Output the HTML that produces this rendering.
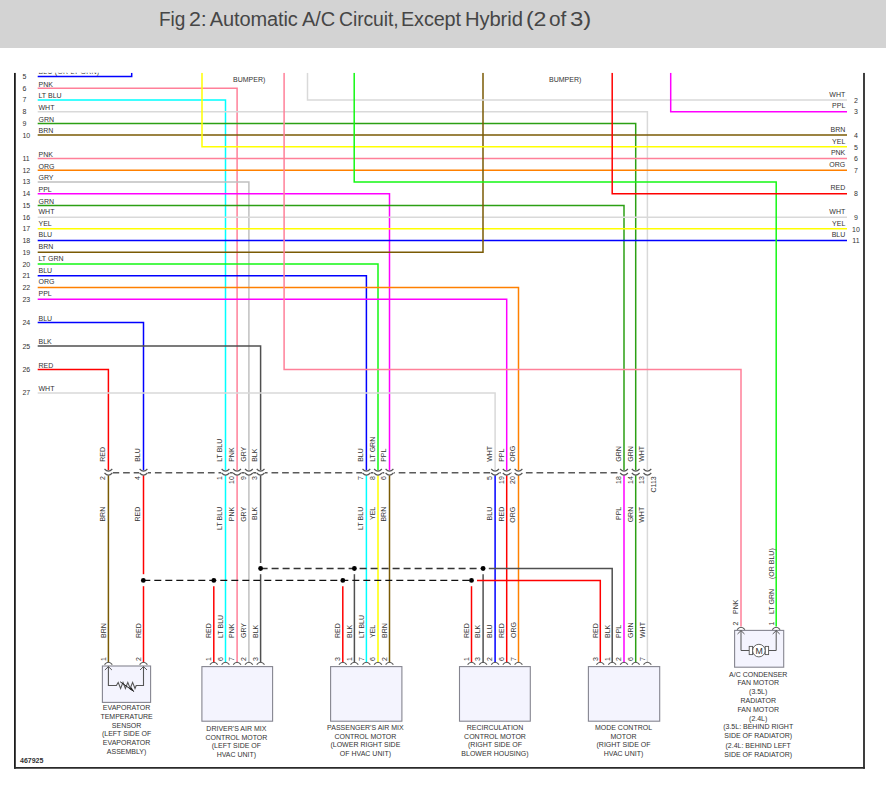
<!DOCTYPE html>
<html><head><meta charset="utf-8"><style>
html,body{margin:0;padding:0;background:#fff;width:886px;height:786px;overflow:hidden}
#hdr{position:absolute;left:0;top:0;width:886px;height:48px;background:#d3d3d3}
.tw{position:absolute;top:7px;font-family:"Liberation Sans",sans-serif;font-size:20px;letter-spacing:-0.1px;color:#464646;white-space:nowrap;line-height:24px;transform-origin:0 0}
svg{position:absolute;left:0;top:0}
svg text{font-family:"Liberation Sans",sans-serif}
</style></head><body>
<div id="hdr"></div><span class="tw" style="left:159.06px;transform:scaleX(0.95)">Fig</span><span class="tw" style="left:189.32px;transform:scaleX(1.07)">2:</span><span class="tw" style="left:209.70px;transform:scaleX(1.0)">Automatic</span><span class="tw" style="left:302.00px;transform:scaleX(1.0)">A/C</span><span class="tw" style="left:339.34px;transform:scaleX(0.97)">Circuit,</span><span class="tw" style="left:400.81px;transform:scaleX(0.99)">Except</span><span class="tw" style="left:464.79px;transform:scaleX(1.01)">Hybrid</span><span class="tw" style="left:526.01px;transform:scaleX(1.16)">(2</span><span class="tw" style="left:548.95px;transform:scaleX(1.04)">of</span><span class="tw" style="left:570.36px;transform:scaleX(1.2)">3)</span>
<svg width="886" height="786" viewBox="0 0 886 786">
<defs><clipPath id="cp"><rect x="0" y="72.8" width="886" height="714"/></clipPath></defs>
<g clip-path="url(#cp)">
<path d="M37.70,76.50 L131.70,76.50 L131.70,72.80" stroke="#0000ff" stroke-width="1.5" fill="none" />
<path d="M37.70,88.22 L237.10,88.22 L237.10,471.00" stroke="#ff8099" stroke-width="1.5" fill="none" />
<path d="M37.70,99.94 L225.50,99.94 L225.50,471.00" stroke="#00ffff" stroke-width="1.5" fill="none" />
<path d="M37.70,111.66 L647.40,111.66 L647.40,471.00" stroke="#d9d9d9" stroke-width="1.5" fill="none" />
<path d="M37.70,123.38 L635.70,123.38 L635.70,471.00" stroke="#2ca014" stroke-width="1.5" fill="none" />
<path d="M37.70,135.10 L847.00,135.10" stroke="#7a5a04" stroke-width="1.5" fill="none" />
<path d="M37.70,158.54 L847.00,158.54" stroke="#ff8099" stroke-width="1.5" fill="none" />
<path d="M37.70,170.26 L847.00,170.26" stroke="#ff8000" stroke-width="1.5" fill="none" />
<path d="M37.70,181.98 L248.90,181.98 L248.90,471.00" stroke="#c0c0c0" stroke-width="1.5" fill="none" />
<path d="M37.70,193.70 L389.50,193.70 L389.50,471.00" stroke="#ff00ff" stroke-width="1.5" fill="none" />
<path d="M37.70,205.42 L624.00,205.42 L624.00,471.00" stroke="#2ca014" stroke-width="1.5" fill="none" />
<path d="M37.70,217.14 L847.00,217.14" stroke="#d9d9d9" stroke-width="1.5" fill="none" />
<path d="M37.70,228.86 L847.00,228.86" stroke="#ffff00" stroke-width="1.5" fill="none" />
<path d="M37.70,240.58 L847.00,240.58" stroke="#0000ff" stroke-width="1.5" fill="none" />
<path d="M37.70,252.30 L483.00,252.30 L483.00,72.80" stroke="#7a5a04" stroke-width="1.5" fill="none" />
<path d="M37.70,264.02 L378.00,264.02 L378.00,471.00" stroke="#14f814" stroke-width="1.5" fill="none" />
<path d="M37.70,275.74 L366.40,275.74 L366.40,471.00" stroke="#0000ff" stroke-width="1.5" fill="none" />
<path d="M37.70,287.46 L518.50,287.46 L518.50,471.00" stroke="#ff8000" stroke-width="1.5" fill="none" />
<path d="M37.70,299.18 L506.70,299.18 L506.70,471.00" stroke="#ff00ff" stroke-width="1.5" fill="none" />
<path d="M37.70,322.62 L143.50,322.62 L143.50,471.00" stroke="#0000ff" stroke-width="1.5" fill="none" />
<path d="M37.70,346.06 L260.60,346.06 L260.60,471.00" stroke="#505050" stroke-width="1.5" fill="none" />
<path d="M37.70,369.50 L108.40,369.50 L108.40,471.00" stroke="#ff0000" stroke-width="1.5" fill="none" />
<path d="M37.70,392.94 L495.10,392.94 L495.10,471.00" stroke="#d9d9d9" stroke-width="1.5" fill="none" />
<path d="M202.00,72.80 L202.00,146.82 L847.00,146.82" stroke="#ffff00" stroke-width="1.5" fill="none" />
<path d="M284.10,72.80 L284.10,369.60 L741.00,369.60 L741.00,626.50" stroke="#ff8099" stroke-width="1.5" fill="none" />
<path d="M307.50,72.80 L307.50,99.94 L847.00,99.94" stroke="#d9d9d9" stroke-width="1.5" fill="none" />
<path d="M354.20,72.80 L354.20,181.98 L776.20,181.98 L776.20,626.50" stroke="#14f814" stroke-width="1.5" fill="none" />
<path d="M612.20,72.80 L612.20,193.70 L847.00,193.70" stroke="#ff0000" stroke-width="1.5" fill="none" />
<path d="M670.70,72.80 L670.70,111.66 L847.00,111.66" stroke="#ff00ff" stroke-width="1.5" fill="none" />
<path d="M108.40,475.00 L108.40,662.40" stroke="#7a5a04" stroke-width="1.5" fill="none" />
<path d="M143.50,475.00 L143.50,574.20" stroke="#ff0000" stroke-width="1.5" fill="none" />
<path d="M143.50,586.20 L143.50,662.40" stroke="#ff0000" stroke-width="1.5" fill="none" />
<path d="M225.50,475.00 L225.50,662.40" stroke="#00ffff" stroke-width="1.5" fill="none" />
<path d="M237.10,475.00 L237.10,662.40" stroke="#ff8099" stroke-width="1.5" fill="none" />
<path d="M248.90,475.00 L248.90,662.40" stroke="#c0c0c0" stroke-width="1.5" fill="none" />
<path d="M260.60,475.00 L260.60,563.00" stroke="#505050" stroke-width="1.5" fill="none" />
<path d="M260.60,574.20 L260.60,662.40" stroke="#505050" stroke-width="1.5" fill="none" />
<path d="M366.40,475.00 L366.40,662.40" stroke="#00ffff" stroke-width="1.5" fill="none" />
<path d="M378.00,475.00 L378.00,662.40" stroke="#ffff00" stroke-width="1.5" fill="none" />
<path d="M389.50,475.00 L389.50,662.40" stroke="#7a5a04" stroke-width="1.5" fill="none" />
<path d="M495.10,475.00 L495.10,662.40" stroke="#0000ff" stroke-width="1.5" fill="none" />
<path d="M506.70,475.00 L506.70,662.40" stroke="#ff0000" stroke-width="1.5" fill="none" />
<path d="M518.50,475.00 L518.50,662.40" stroke="#ff8000" stroke-width="1.5" fill="none" />
<path d="M624.00,475.00 L624.00,662.40" stroke="#ff00ff" stroke-width="1.5" fill="none" />
<path d="M635.70,475.00 L635.70,662.40" stroke="#2ca014" stroke-width="1.5" fill="none" />
<path d="M647.40,475.00 L647.40,662.40" stroke="#d9d9d9" stroke-width="1.5" fill="none" />
<path d="M213.80,586.20 L213.80,662.40" stroke="#ff0000" stroke-width="1.5" fill="none" />
<path d="M342.80,586.20 L342.80,662.40" stroke="#ff0000" stroke-width="1.5" fill="none" />
<path d="M471.50,586.20 L471.50,662.40" stroke="#ff0000" stroke-width="1.5" fill="none" />
<path d="M354.40,574.20 L354.40,662.40" stroke="#505050" stroke-width="1.5" fill="none" />
<path d="M483.10,574.20 L483.10,662.40" stroke="#505050" stroke-width="1.5" fill="none" />
<path d="M477.00,580.40 L600.30,580.40 L600.30,662.40" stroke="#ff0000" stroke-width="1.5" fill="none" />
<path d="M488.80,568.50 L612.20,568.50 L612.20,662.40" stroke="#505050" stroke-width="1.5" fill="none" />
<path d="M143.3,580.4 H471.5" stroke="#111" stroke-width="1.4" stroke-dasharray="7,4" fill="none"/>
<path d="M260.6,568.5 H483.1" stroke="#333" stroke-width="1.4" stroke-dasharray="7,4" fill="none"/>
<circle cx="143.3" cy="580.4" r="2.4" fill="#000"/>
<circle cx="213.8" cy="580.4" r="2.4" fill="#000"/>
<circle cx="342.8" cy="580.4" r="2.4" fill="#000"/>
<circle cx="471.5" cy="580.4" r="2.4" fill="#000"/>
<circle cx="260.6" cy="568.5" r="2.4" fill="#000"/>
<circle cx="354.4" cy="568.5" r="2.4" fill="#000"/>
<circle cx="483.1" cy="568.5" r="2.4" fill="#000"/>
<path d="M112.5,472.8 H620" stroke="#5a5a5a" stroke-width="1.5" stroke-dasharray="6.7,3.9" fill="none"/>
<rect x="104.10" y="470.3" width="8.6" height="5" fill="#fff"/>
<path d="M104.50,469.0 Q106.50,471.1 108.40,471.1 Q110.30,471.1 112.30,469.0 M104.50,473.0 Q106.50,475.1 108.40,475.1 Q110.30,475.1 112.30,473.0" stroke="#555" stroke-width="1.15" fill="none"/>
<text x="105.30" y="461.80" font-size="7" text-anchor="start" fill="#333" transform="rotate(-90 105.30 461.80)" >RED</text>
<text x="105.30" y="476.10" font-size="7" text-anchor="end" fill="#333" transform="rotate(-90 105.30 476.10)" >2</text>
<text x="105.30" y="506.80" font-size="7" text-anchor="end" fill="#333" transform="rotate(-90 105.30 506.80)" >BRN</text>
<rect x="139.20" y="470.3" width="8.6" height="5" fill="#fff"/>
<path d="M139.60,469.0 Q141.60,471.1 143.50,471.1 Q145.40,471.1 147.40,469.0 M139.60,473.0 Q141.60,475.1 143.50,475.1 Q145.40,475.1 147.40,473.0" stroke="#555" stroke-width="1.15" fill="none"/>
<text x="140.40" y="461.80" font-size="7" text-anchor="start" fill="#333" transform="rotate(-90 140.40 461.80)" >BLU</text>
<text x="140.40" y="476.10" font-size="7" text-anchor="end" fill="#333" transform="rotate(-90 140.40 476.10)" >4</text>
<text x="140.40" y="506.80" font-size="7" text-anchor="end" fill="#333" transform="rotate(-90 140.40 506.80)" >RED</text>
<rect x="221.20" y="470.3" width="8.6" height="5" fill="#fff"/>
<path d="M221.60,469.0 Q223.60,471.1 225.50,471.1 Q227.40,471.1 229.40,469.0 M221.60,473.0 Q223.60,475.1 225.50,475.1 Q227.40,475.1 229.40,473.0" stroke="#555" stroke-width="1.15" fill="none"/>
<text x="222.40" y="461.80" font-size="7" text-anchor="start" fill="#333" transform="rotate(-90 222.40 461.80)" >LT BLU</text>
<text x="222.40" y="476.10" font-size="7" text-anchor="end" fill="#333" transform="rotate(-90 222.40 476.10)" >1</text>
<text x="222.40" y="506.80" font-size="7" text-anchor="end" fill="#333" transform="rotate(-90 222.40 506.80)" >LT BLU</text>
<rect x="232.80" y="470.3" width="8.6" height="5" fill="#fff"/>
<path d="M233.20,469.0 Q235.20,471.1 237.10,471.1 Q239.00,471.1 241.00,469.0 M233.20,473.0 Q235.20,475.1 237.10,475.1 Q239.00,475.1 241.00,473.0" stroke="#555" stroke-width="1.15" fill="none"/>
<text x="234.00" y="461.80" font-size="7" text-anchor="start" fill="#333" transform="rotate(-90 234.00 461.80)" >PNK</text>
<text x="234.00" y="476.10" font-size="7" text-anchor="end" fill="#333" transform="rotate(-90 234.00 476.10)" >10</text>
<text x="234.00" y="506.80" font-size="7" text-anchor="end" fill="#333" transform="rotate(-90 234.00 506.80)" >PNK</text>
<rect x="244.60" y="470.3" width="8.6" height="5" fill="#fff"/>
<path d="M245.00,469.0 Q247.00,471.1 248.90,471.1 Q250.80,471.1 252.80,469.0 M245.00,473.0 Q247.00,475.1 248.90,475.1 Q250.80,475.1 252.80,473.0" stroke="#555" stroke-width="1.15" fill="none"/>
<text x="245.80" y="461.80" font-size="7" text-anchor="start" fill="#333" transform="rotate(-90 245.80 461.80)" >GRY</text>
<text x="245.80" y="476.10" font-size="7" text-anchor="end" fill="#333" transform="rotate(-90 245.80 476.10)" >9</text>
<text x="245.80" y="506.80" font-size="7" text-anchor="end" fill="#333" transform="rotate(-90 245.80 506.80)" >GRY</text>
<rect x="256.30" y="470.3" width="8.6" height="5" fill="#fff"/>
<path d="M256.70,469.0 Q258.70,471.1 260.60,471.1 Q262.50,471.1 264.50,469.0 M256.70,473.0 Q258.70,475.1 260.60,475.1 Q262.50,475.1 264.50,473.0" stroke="#555" stroke-width="1.15" fill="none"/>
<text x="257.50" y="461.80" font-size="7" text-anchor="start" fill="#333" transform="rotate(-90 257.50 461.80)" >BLK</text>
<text x="257.50" y="476.10" font-size="7" text-anchor="end" fill="#333" transform="rotate(-90 257.50 476.10)" >3</text>
<text x="257.50" y="506.80" font-size="7" text-anchor="end" fill="#333" transform="rotate(-90 257.50 506.80)" >BLK</text>
<rect x="362.10" y="470.3" width="8.6" height="5" fill="#fff"/>
<path d="M362.50,469.0 Q364.50,471.1 366.40,471.1 Q368.30,471.1 370.30,469.0 M362.50,473.0 Q364.50,475.1 366.40,475.1 Q368.30,475.1 370.30,473.0" stroke="#555" stroke-width="1.15" fill="none"/>
<text x="363.30" y="461.80" font-size="7" text-anchor="start" fill="#333" transform="rotate(-90 363.30 461.80)" >BLU</text>
<text x="363.30" y="476.10" font-size="7" text-anchor="end" fill="#333" transform="rotate(-90 363.30 476.10)" >7</text>
<text x="363.30" y="506.80" font-size="7" text-anchor="end" fill="#333" transform="rotate(-90 363.30 506.80)" >LT BLU</text>
<rect x="373.70" y="470.3" width="8.6" height="5" fill="#fff"/>
<path d="M374.10,469.0 Q376.10,471.1 378.00,471.1 Q379.90,471.1 381.90,469.0 M374.10,473.0 Q376.10,475.1 378.00,475.1 Q379.90,475.1 381.90,473.0" stroke="#555" stroke-width="1.15" fill="none"/>
<text x="374.90" y="461.80" font-size="7" text-anchor="start" fill="#333" transform="rotate(-90 374.90 461.80)" >LT GRN</text>
<text x="374.90" y="476.10" font-size="7" text-anchor="end" fill="#333" transform="rotate(-90 374.90 476.10)" >8</text>
<text x="374.90" y="506.80" font-size="7" text-anchor="end" fill="#333" transform="rotate(-90 374.90 506.80)" >YEL</text>
<rect x="385.20" y="470.3" width="8.6" height="5" fill="#fff"/>
<path d="M385.60,469.0 Q387.60,471.1 389.50,471.1 Q391.40,471.1 393.40,469.0 M385.60,473.0 Q387.60,475.1 389.50,475.1 Q391.40,475.1 393.40,473.0" stroke="#555" stroke-width="1.15" fill="none"/>
<text x="386.40" y="461.80" font-size="7" text-anchor="start" fill="#333" transform="rotate(-90 386.40 461.80)" >PPL</text>
<text x="386.40" y="476.10" font-size="7" text-anchor="end" fill="#333" transform="rotate(-90 386.40 476.10)" >6</text>
<text x="386.40" y="506.80" font-size="7" text-anchor="end" fill="#333" transform="rotate(-90 386.40 506.80)" >BRN</text>
<rect x="490.80" y="470.3" width="8.6" height="5" fill="#fff"/>
<path d="M491.20,469.0 Q493.20,471.1 495.10,471.1 Q497.00,471.1 499.00,469.0 M491.20,473.0 Q493.20,475.1 495.10,475.1 Q497.00,475.1 499.00,473.0" stroke="#555" stroke-width="1.15" fill="none"/>
<text x="492.00" y="461.80" font-size="7" text-anchor="start" fill="#333" transform="rotate(-90 492.00 461.80)" >WHT</text>
<text x="492.00" y="476.10" font-size="7" text-anchor="end" fill="#333" transform="rotate(-90 492.00 476.10)" >5</text>
<text x="492.00" y="506.80" font-size="7" text-anchor="end" fill="#333" transform="rotate(-90 492.00 506.80)" >BLU</text>
<rect x="502.40" y="470.3" width="8.6" height="5" fill="#fff"/>
<path d="M502.80,469.0 Q504.80,471.1 506.70,471.1 Q508.60,471.1 510.60,469.0 M502.80,473.0 Q504.80,475.1 506.70,475.1 Q508.60,475.1 510.60,473.0" stroke="#555" stroke-width="1.15" fill="none"/>
<text x="503.60" y="461.80" font-size="7" text-anchor="start" fill="#333" transform="rotate(-90 503.60 461.80)" >PPL</text>
<text x="503.60" y="476.10" font-size="7" text-anchor="end" fill="#333" transform="rotate(-90 503.60 476.10)" >19</text>
<text x="503.60" y="506.80" font-size="7" text-anchor="end" fill="#333" transform="rotate(-90 503.60 506.80)" >RED</text>
<rect x="514.20" y="470.3" width="8.6" height="5" fill="#fff"/>
<path d="M514.60,469.0 Q516.60,471.1 518.50,471.1 Q520.40,471.1 522.40,469.0 M514.60,473.0 Q516.60,475.1 518.50,475.1 Q520.40,475.1 522.40,473.0" stroke="#555" stroke-width="1.15" fill="none"/>
<text x="515.40" y="461.80" font-size="7" text-anchor="start" fill="#333" transform="rotate(-90 515.40 461.80)" >ORG</text>
<text x="515.40" y="476.10" font-size="7" text-anchor="end" fill="#333" transform="rotate(-90 515.40 476.10)" >20</text>
<text x="515.40" y="506.80" font-size="7" text-anchor="end" fill="#333" transform="rotate(-90 515.40 506.80)" >ORG</text>
<rect x="619.70" y="470.3" width="8.6" height="5" fill="#fff"/>
<path d="M620.10,469.0 Q622.10,471.1 624.00,471.1 Q625.90,471.1 627.90,469.0 M620.10,473.0 Q622.10,475.1 624.00,475.1 Q625.90,475.1 627.90,473.0" stroke="#555" stroke-width="1.15" fill="none"/>
<text x="620.90" y="461.80" font-size="7" text-anchor="start" fill="#333" transform="rotate(-90 620.90 461.80)" >GRN</text>
<text x="620.90" y="476.10" font-size="7" text-anchor="end" fill="#333" transform="rotate(-90 620.90 476.10)" >18</text>
<text x="620.90" y="506.80" font-size="7" text-anchor="end" fill="#333" transform="rotate(-90 620.90 506.80)" >PPL</text>
<rect x="631.40" y="470.3" width="8.6" height="5" fill="#fff"/>
<path d="M631.80,469.0 Q633.80,471.1 635.70,471.1 Q637.60,471.1 639.60,469.0 M631.80,473.0 Q633.80,475.1 635.70,475.1 Q637.60,475.1 639.60,473.0" stroke="#555" stroke-width="1.15" fill="none"/>
<text x="632.60" y="461.80" font-size="7" text-anchor="start" fill="#333" transform="rotate(-90 632.60 461.80)" >GRN</text>
<text x="632.60" y="476.10" font-size="7" text-anchor="end" fill="#333" transform="rotate(-90 632.60 476.10)" >14</text>
<text x="632.60" y="506.80" font-size="7" text-anchor="end" fill="#333" transform="rotate(-90 632.60 506.80)" >GRN</text>
<rect x="643.10" y="470.3" width="8.6" height="5" fill="#fff"/>
<path d="M643.50,469.0 Q645.50,471.1 647.40,471.1 Q649.30,471.1 651.30,469.0 M643.50,473.0 Q645.50,475.1 647.40,475.1 Q649.30,475.1 651.30,473.0" stroke="#555" stroke-width="1.15" fill="none"/>
<text x="644.30" y="461.80" font-size="7" text-anchor="start" fill="#333" transform="rotate(-90 644.30 461.80)" >WHT</text>
<text x="644.30" y="476.10" font-size="7" text-anchor="end" fill="#333" transform="rotate(-90 644.30 476.10)" >13</text>
<text x="644.30" y="506.80" font-size="7" text-anchor="end" fill="#333" transform="rotate(-90 644.30 506.80)" >WHT</text>
<text x="656.30" y="476.30" font-size="7" text-anchor="end" fill="#333" transform="rotate(-90 656.30 476.30)" >C113</text>
<rect x="102.4" y="666.0" width="48.19999999999999" height="36.39999999999998" fill="#f4f4fe" stroke="#858590" stroke-width="1.1"/>
<rect x="201.9" y="666.6" width="70.70000000000002" height="54.60000000000002" fill="#f4f4fe" stroke="#858590" stroke-width="1.1"/>
<rect x="330.6" y="666.6" width="71.29999999999995" height="54.60000000000002" fill="#f4f4fe" stroke="#858590" stroke-width="1.1"/>
<rect x="459.5" y="666.6" width="70.79999999999995" height="54.60000000000002" fill="#f4f4fe" stroke="#858590" stroke-width="1.1"/>
<rect x="588.4" y="666.6" width="71.30000000000007" height="54.60000000000002" fill="#f4f4fe" stroke="#858590" stroke-width="1.1"/>
<path d="M104.50,664.60 Q106.30,662.30 108.40,662.30 Q110.50,662.30 112.30,664.60" stroke="#555" stroke-width="1.1" fill="none"/>
<text x="105.70" y="638.00" font-size="7" text-anchor="start" fill="#333" transform="rotate(-90 105.70 638.00)" >BRN</text>
<text x="105.70" y="661.00" font-size="7" text-anchor="start" fill="#333" transform="rotate(-90 105.70 661.00)" >1</text>
<path d="M139.60,664.60 Q141.40,662.30 143.50,662.30 Q145.60,662.30 147.40,664.60" stroke="#555" stroke-width="1.1" fill="none"/>
<text x="140.80" y="638.00" font-size="7" text-anchor="start" fill="#333" transform="rotate(-90 140.80 638.00)" >RED</text>
<text x="140.80" y="661.00" font-size="7" text-anchor="start" fill="#333" transform="rotate(-90 140.80 661.00)" >2</text>
<path d="M209.90,664.60 Q211.70,662.30 213.80,662.30 Q215.90,662.30 217.70,664.60" stroke="#555" stroke-width="1.1" fill="none"/>
<text x="211.10" y="638.00" font-size="7" text-anchor="start" fill="#333" transform="rotate(-90 211.10 638.00)" >RED</text>
<text x="211.10" y="661.00" font-size="7" text-anchor="start" fill="#333" transform="rotate(-90 211.10 661.00)" >1</text>
<path d="M221.60,664.60 Q223.40,662.30 225.50,662.30 Q227.60,662.30 229.40,664.60" stroke="#555" stroke-width="1.1" fill="none"/>
<text x="222.80" y="638.00" font-size="7" text-anchor="start" fill="#333" transform="rotate(-90 222.80 638.00)" >LT BLU</text>
<text x="222.80" y="661.00" font-size="7" text-anchor="start" fill="#333" transform="rotate(-90 222.80 661.00)" >6</text>
<path d="M233.20,664.60 Q235.00,662.30 237.10,662.30 Q239.20,662.30 241.00,664.60" stroke="#555" stroke-width="1.1" fill="none"/>
<text x="234.40" y="638.00" font-size="7" text-anchor="start" fill="#333" transform="rotate(-90 234.40 638.00)" >PNK</text>
<text x="234.40" y="661.00" font-size="7" text-anchor="start" fill="#333" transform="rotate(-90 234.40 661.00)" >7</text>
<path d="M245.00,664.60 Q246.80,662.30 248.90,662.30 Q251.00,662.30 252.80,664.60" stroke="#555" stroke-width="1.1" fill="none"/>
<text x="246.20" y="638.00" font-size="7" text-anchor="start" fill="#333" transform="rotate(-90 246.20 638.00)" >GRY</text>
<text x="246.20" y="661.00" font-size="7" text-anchor="start" fill="#333" transform="rotate(-90 246.20 661.00)" >2</text>
<path d="M256.70,664.60 Q258.50,662.30 260.60,662.30 Q262.70,662.30 264.50,664.60" stroke="#555" stroke-width="1.1" fill="none"/>
<text x="257.90" y="638.00" font-size="7" text-anchor="start" fill="#333" transform="rotate(-90 257.90 638.00)" >BLK</text>
<text x="257.90" y="661.00" font-size="7" text-anchor="start" fill="#333" transform="rotate(-90 257.90 661.00)" >3</text>
<path d="M338.90,664.60 Q340.70,662.30 342.80,662.30 Q344.90,662.30 346.70,664.60" stroke="#555" stroke-width="1.1" fill="none"/>
<text x="340.10" y="638.00" font-size="7" text-anchor="start" fill="#333" transform="rotate(-90 340.10 638.00)" >RED</text>
<text x="340.10" y="661.00" font-size="7" text-anchor="start" fill="#333" transform="rotate(-90 340.10 661.00)" >3</text>
<path d="M350.50,664.60 Q352.30,662.30 354.40,662.30 Q356.50,662.30 358.30,664.60" stroke="#555" stroke-width="1.1" fill="none"/>
<text x="351.70" y="638.00" font-size="7" text-anchor="start" fill="#333" transform="rotate(-90 351.70 638.00)" >BLK</text>
<text x="351.70" y="661.00" font-size="7" text-anchor="start" fill="#333" transform="rotate(-90 351.70 661.00)" >1</text>
<path d="M362.50,664.60 Q364.30,662.30 366.40,662.30 Q368.50,662.30 370.30,664.60" stroke="#555" stroke-width="1.1" fill="none"/>
<text x="363.70" y="638.00" font-size="7" text-anchor="start" fill="#333" transform="rotate(-90 363.70 638.00)" >LT BLU</text>
<text x="363.70" y="661.00" font-size="7" text-anchor="start" fill="#333" transform="rotate(-90 363.70 661.00)" >7</text>
<path d="M374.10,664.60 Q375.90,662.30 378.00,662.30 Q380.10,662.30 381.90,664.60" stroke="#555" stroke-width="1.1" fill="none"/>
<text x="375.30" y="638.00" font-size="7" text-anchor="start" fill="#333" transform="rotate(-90 375.30 638.00)" >YEL</text>
<text x="375.30" y="661.00" font-size="7" text-anchor="start" fill="#333" transform="rotate(-90 375.30 661.00)" >6</text>
<path d="M385.60,664.60 Q387.40,662.30 389.50,662.30 Q391.60,662.30 393.40,664.60" stroke="#555" stroke-width="1.1" fill="none"/>
<text x="386.80" y="638.00" font-size="7" text-anchor="start" fill="#333" transform="rotate(-90 386.80 638.00)" >BRN</text>
<text x="386.80" y="661.00" font-size="7" text-anchor="start" fill="#333" transform="rotate(-90 386.80 661.00)" >2</text>
<path d="M467.60,664.60 Q469.40,662.30 471.50,662.30 Q473.60,662.30 475.40,664.60" stroke="#555" stroke-width="1.1" fill="none"/>
<text x="468.80" y="638.00" font-size="7" text-anchor="start" fill="#333" transform="rotate(-90 468.80 638.00)" >RED</text>
<text x="468.80" y="661.00" font-size="7" text-anchor="start" fill="#333" transform="rotate(-90 468.80 661.00)" >1</text>
<path d="M479.20,664.60 Q481.00,662.30 483.10,662.30 Q485.20,662.30 487.00,664.60" stroke="#555" stroke-width="1.1" fill="none"/>
<text x="480.40" y="638.00" font-size="7" text-anchor="start" fill="#333" transform="rotate(-90 480.40 638.00)" >BLK</text>
<text x="480.40" y="661.00" font-size="7" text-anchor="start" fill="#333" transform="rotate(-90 480.40 661.00)" >3</text>
<path d="M491.20,664.60 Q493.00,662.30 495.10,662.30 Q497.20,662.30 499.00,664.60" stroke="#555" stroke-width="1.1" fill="none"/>
<text x="492.40" y="638.00" font-size="7" text-anchor="start" fill="#333" transform="rotate(-90 492.40 638.00)" >BLU</text>
<text x="492.40" y="661.00" font-size="7" text-anchor="start" fill="#333" transform="rotate(-90 492.40 661.00)" >2</text>
<path d="M502.80,664.60 Q504.60,662.30 506.70,662.30 Q508.80,662.30 510.60,664.60" stroke="#555" stroke-width="1.1" fill="none"/>
<text x="504.00" y="638.00" font-size="7" text-anchor="start" fill="#333" transform="rotate(-90 504.00 638.00)" >RED</text>
<text x="504.00" y="661.00" font-size="7" text-anchor="start" fill="#333" transform="rotate(-90 504.00 661.00)" >6</text>
<path d="M514.60,664.60 Q516.40,662.30 518.50,662.30 Q520.60,662.30 522.40,664.60" stroke="#555" stroke-width="1.1" fill="none"/>
<text x="515.80" y="638.00" font-size="7" text-anchor="start" fill="#333" transform="rotate(-90 515.80 638.00)" >ORG</text>
<text x="515.80" y="661.00" font-size="7" text-anchor="start" fill="#333" transform="rotate(-90 515.80 661.00)" >7</text>
<path d="M596.40,664.60 Q598.20,662.30 600.30,662.30 Q602.40,662.30 604.20,664.60" stroke="#555" stroke-width="1.1" fill="none"/>
<text x="597.60" y="638.00" font-size="7" text-anchor="start" fill="#333" transform="rotate(-90 597.60 638.00)" >RED</text>
<text x="597.60" y="661.00" font-size="7" text-anchor="start" fill="#333" transform="rotate(-90 597.60 661.00)" >3</text>
<path d="M608.30,664.60 Q610.10,662.30 612.20,662.30 Q614.30,662.30 616.10,664.60" stroke="#555" stroke-width="1.1" fill="none"/>
<text x="609.50" y="638.00" font-size="7" text-anchor="start" fill="#333" transform="rotate(-90 609.50 638.00)" >BLK</text>
<text x="609.50" y="661.00" font-size="7" text-anchor="start" fill="#333" transform="rotate(-90 609.50 661.00)" >1</text>
<path d="M620.10,664.60 Q621.90,662.30 624.00,662.30 Q626.10,662.30 627.90,664.60" stroke="#555" stroke-width="1.1" fill="none"/>
<text x="621.30" y="638.00" font-size="7" text-anchor="start" fill="#333" transform="rotate(-90 621.30 638.00)" >PPL</text>
<text x="621.30" y="661.00" font-size="7" text-anchor="start" fill="#333" transform="rotate(-90 621.30 661.00)" >2</text>
<path d="M631.80,664.60 Q633.60,662.30 635.70,662.30 Q637.80,662.30 639.60,664.60" stroke="#555" stroke-width="1.1" fill="none"/>
<text x="633.00" y="638.00" font-size="7" text-anchor="start" fill="#333" transform="rotate(-90 633.00 638.00)" >GRN</text>
<text x="633.00" y="661.00" font-size="7" text-anchor="start" fill="#333" transform="rotate(-90 633.00 661.00)" >6</text>
<path d="M643.50,664.60 Q645.30,662.30 647.40,662.30 Q649.50,662.30 651.30,664.60" stroke="#555" stroke-width="1.1" fill="none"/>
<text x="644.70" y="638.00" font-size="7" text-anchor="start" fill="#333" transform="rotate(-90 644.70 638.00)" >WHT</text>
<text x="644.70" y="661.00" font-size="7" text-anchor="start" fill="#333" transform="rotate(-90 644.70 661.00)" >7</text>
<path d="M108.4,666.5 V685.5 H116.4 L118.2,682.4 L120.6,688.5 L123.0,682.4 L125.4,688.5 L127.8,682.4 L130.2,688.5 L132.6,682.4 L135.0,688.5 L136.2,685.5 H143.5 V666.5" stroke="#555" stroke-width="1.1" fill="none"/>
<path d="M104.9,670 L108.4,666.6 L111.9,670 M140,670 L143.5,666.6 L147,670" stroke="#555" stroke-width="1" fill="none"/>
<path d="M120.2,681.8 L133.8,691.4" stroke="#222" stroke-width="1" fill="none"/>
<path d="M129.5,688.9 L134.4,691.9 L131.4,687.2 Z" fill="#222"/>
<rect x="734.6" y="630.4" width="49.10000000000002" height="36.80000000000007" fill="#f4f4fe" stroke="#858590" stroke-width="1.1"/>
<path d="M737.10,629.60 Q738.90,627.30 741.00,627.30 Q743.10,627.30 744.90,629.60" stroke="#555" stroke-width="1.1" fill="none"/>
<path d="M772.30,629.60 Q774.10,627.30 776.20,627.30 Q778.30,627.30 780.10,629.60" stroke="#555" stroke-width="1.1" fill="none"/>
<text x="738.30" y="614.00" font-size="7" text-anchor="start" fill="#333" transform="rotate(-90 738.30 614.00)" >PNK</text>
<text x="738.30" y="625.50" font-size="7" text-anchor="start" fill="#333" transform="rotate(-90 738.30 625.50)" >2</text>
<text x="773.50" y="614.00" font-size="7" text-anchor="start" fill="#333" transform="rotate(-90 773.50 614.00)" >LT GRN</text>
<text x="773.50" y="579.00" font-size="7" text-anchor="start" fill="#333" transform="rotate(-90 773.50 579.00)" >(OR BLU)</text>
<text x="773.50" y="625.50" font-size="7" text-anchor="start" fill="#333" transform="rotate(-90 773.50 625.50)" >1</text>
<path d="M741,630.6 V650.5 H749.2 M768.6,650.5 H776.2 V630.6" stroke="#555" stroke-width="1" fill="none"/>
<path d="M737.5,634 L741,630.6 L744.5,634 M772.7,634 L776.2,630.6 L779.7,634" stroke="#555" stroke-width="1" fill="none"/>
<rect x="749.2" y="646.4" width="3.4" height="8.2" fill="#fff" stroke="#555" stroke-width="0.9"/>
<rect x="765.2" y="646.4" width="3.4" height="8.2" fill="#fff" stroke="#555" stroke-width="0.9"/>
<circle cx="758.9" cy="650.6" r="6.3" fill="#fff" stroke="#555" stroke-width="0.9"/>
<text x="759.20" y="653.90" font-size="8.8" text-anchor="middle" fill="#333" >M</text>
<text x="126.60" y="710.00" font-size="7" text-anchor="middle" fill="#333" >EVAPORATOR</text>
<text x="126.60" y="718.80" font-size="7" text-anchor="middle" fill="#333" >TEMPERATURE</text>
<text x="126.60" y="727.60" font-size="7" text-anchor="middle" fill="#333" >SENSOR</text>
<text x="126.60" y="736.40" font-size="7" text-anchor="middle" fill="#333" >(LEFT SIDE OF</text>
<text x="126.60" y="745.20" font-size="7" text-anchor="middle" fill="#333" >EVAPORATOR</text>
<text x="126.60" y="754.00" font-size="7" text-anchor="middle" fill="#333" >ASSEMBLY)</text>
<text x="236.40" y="731.00" font-size="7" text-anchor="middle" fill="#333" >DRIVER'S AIR MIX</text>
<text x="236.40" y="739.70" font-size="7" text-anchor="middle" fill="#333" >CONTROL MOTOR</text>
<text x="236.40" y="748.40" font-size="7" text-anchor="middle" fill="#333" >(LEFT SIDE OF</text>
<text x="236.40" y="757.10" font-size="7" text-anchor="middle" fill="#333" >HVAC UNIT)</text>
<text x="365.40" y="730.30" font-size="7" text-anchor="middle" fill="#333" >PASSENGER'S AIR MIX</text>
<text x="365.40" y="739.00" font-size="7" text-anchor="middle" fill="#333" >CONTROL MOTOR</text>
<text x="365.40" y="747.10" font-size="7" text-anchor="middle" fill="#333" >(LOWER RIGHT SIDE</text>
<text x="365.40" y="755.80" font-size="7" text-anchor="middle" fill="#333" >OF HVAC UNIT)</text>
<text x="495.00" y="730.30" font-size="7" text-anchor="middle" fill="#333" >RECIRCULATION</text>
<text x="495.00" y="739.00" font-size="7" text-anchor="middle" fill="#333" >CONTROL MOTOR</text>
<text x="495.00" y="747.10" font-size="7" text-anchor="middle" fill="#333" >(RIGHT SIDE OF</text>
<text x="495.00" y="755.80" font-size="7" text-anchor="middle" fill="#333" >BLOWER HOUSING)</text>
<text x="623.50" y="730.30" font-size="7" text-anchor="middle" fill="#333" >MODE CONTROL</text>
<text x="623.50" y="739.00" font-size="7" text-anchor="middle" fill="#333" >MOTOR</text>
<text x="623.50" y="747.10" font-size="7" text-anchor="middle" fill="#333" >(RIGHT SIDE OF</text>
<text x="623.50" y="755.80" font-size="7" text-anchor="middle" fill="#333" >HVAC UNIT)</text>
<text x="758.20" y="677.00" font-size="7" text-anchor="middle" fill="#333" >A/C CONDENSER</text>
<text x="758.20" y="685.10" font-size="7" text-anchor="middle" fill="#333" >FAN MOTOR</text>
<text x="758.20" y="694.10" font-size="7" text-anchor="middle" fill="#333" >(3.5L)</text>
<text x="758.20" y="703.10" font-size="7" text-anchor="middle" fill="#333" >RADIATOR</text>
<text x="758.20" y="712.00" font-size="7" text-anchor="middle" fill="#333" >FAN MOTOR</text>
<text x="758.20" y="721.00" font-size="7" text-anchor="middle" fill="#333" >(2.4L)</text>
<text x="758.20" y="729.20" font-size="7" text-anchor="middle" fill="#333" >(3.5L: BEHIND RIGHT</text>
<text x="758.20" y="738.00" font-size="7" text-anchor="middle" fill="#333" >SIDE OF RADIATOR)</text>
<text x="758.20" y="748.00" font-size="7" text-anchor="middle" fill="#333" >(2.4L: BEHIND LEFT</text>
<text x="758.20" y="757.00" font-size="7" text-anchor="middle" fill="#333" >SIDE OF RADIATOR)</text>
<text x="38.50" y="73.90" font-size="7" text-anchor="start" fill="#333" textLength="60.5" lengthAdjust="spacing">BLU (OR LT GRN)</text>
<text x="22.40" y="79.00" font-size="7" text-anchor="start" fill="#333" >5</text>
<text x="38.50" y="86.52" font-size="7" text-anchor="start" fill="#333" >PNK</text>
<text x="22.40" y="90.72" font-size="7" text-anchor="start" fill="#333" >6</text>
<text x="38.50" y="98.24" font-size="7" text-anchor="start" fill="#333" >LT BLU</text>
<text x="22.40" y="102.44" font-size="7" text-anchor="start" fill="#333" >7</text>
<text x="38.50" y="109.96" font-size="7" text-anchor="start" fill="#333" >WHT</text>
<text x="22.40" y="114.16" font-size="7" text-anchor="start" fill="#333" >8</text>
<text x="38.50" y="121.68" font-size="7" text-anchor="start" fill="#333" >GRN</text>
<text x="22.40" y="125.88" font-size="7" text-anchor="start" fill="#333" >9</text>
<text x="38.50" y="133.40" font-size="7" text-anchor="start" fill="#333" >BRN</text>
<text x="22.40" y="137.60" font-size="7" text-anchor="start" fill="#333" >10</text>
<text x="38.50" y="156.84" font-size="7" text-anchor="start" fill="#333" >PNK</text>
<text x="22.40" y="161.04" font-size="7" text-anchor="start" fill="#333" >11</text>
<text x="38.50" y="168.56" font-size="7" text-anchor="start" fill="#333" >ORG</text>
<text x="22.40" y="172.76" font-size="7" text-anchor="start" fill="#333" >12</text>
<text x="38.50" y="180.28" font-size="7" text-anchor="start" fill="#333" >GRY</text>
<text x="22.40" y="184.48" font-size="7" text-anchor="start" fill="#333" >13</text>
<text x="38.50" y="192.00" font-size="7" text-anchor="start" fill="#333" >PPL</text>
<text x="22.40" y="196.20" font-size="7" text-anchor="start" fill="#333" >14</text>
<text x="38.50" y="203.72" font-size="7" text-anchor="start" fill="#333" >GRN</text>
<text x="22.40" y="207.92" font-size="7" text-anchor="start" fill="#333" >15</text>
<text x="38.50" y="213.94" font-size="7" text-anchor="start" fill="#333" >WHT</text>
<text x="22.40" y="219.64" font-size="7" text-anchor="start" fill="#333" >16</text>
<text x="38.50" y="225.66" font-size="7" text-anchor="start" fill="#333" >YEL</text>
<text x="22.40" y="231.36" font-size="7" text-anchor="start" fill="#333" >17</text>
<text x="38.50" y="237.38" font-size="7" text-anchor="start" fill="#333" >BLU</text>
<text x="22.40" y="243.08" font-size="7" text-anchor="start" fill="#333" >18</text>
<text x="38.50" y="249.10" font-size="7" text-anchor="start" fill="#333" >BRN</text>
<text x="22.40" y="254.80" font-size="7" text-anchor="start" fill="#333" >19</text>
<text x="38.50" y="260.82" font-size="7" text-anchor="start" fill="#333" >LT GRN</text>
<text x="22.40" y="266.52" font-size="7" text-anchor="start" fill="#333" >20</text>
<text x="38.50" y="272.54" font-size="7" text-anchor="start" fill="#333" >BLU</text>
<text x="22.40" y="278.24" font-size="7" text-anchor="start" fill="#333" >21</text>
<text x="38.50" y="284.26" font-size="7" text-anchor="start" fill="#333" >ORG</text>
<text x="22.40" y="289.96" font-size="7" text-anchor="start" fill="#333" >22</text>
<text x="38.50" y="295.98" font-size="7" text-anchor="start" fill="#333" >PPL</text>
<text x="22.40" y="301.68" font-size="7" text-anchor="start" fill="#333" >23</text>
<text x="38.50" y="320.82" font-size="7" text-anchor="start" fill="#333" >BLU</text>
<text x="22.40" y="325.12" font-size="7" text-anchor="start" fill="#333" >24</text>
<text x="38.50" y="344.26" font-size="7" text-anchor="start" fill="#333" >BLK</text>
<text x="22.40" y="348.56" font-size="7" text-anchor="start" fill="#333" >25</text>
<text x="38.50" y="367.70" font-size="7" text-anchor="start" fill="#333" >RED</text>
<text x="22.40" y="372.00" font-size="7" text-anchor="start" fill="#333" >26</text>
<text x="38.50" y="391.14" font-size="7" text-anchor="start" fill="#333" >WHT</text>
<text x="22.40" y="395.44" font-size="7" text-anchor="start" fill="#333" >27</text>
<text x="845.30" y="96.64" font-size="7" text-anchor="end" fill="#333" >WHT</text>
<text x="856.00" y="102.64" font-size="7" text-anchor="middle" fill="#333" >2</text>
<text x="845.30" y="108.36" font-size="7" text-anchor="end" fill="#333" >PPL</text>
<text x="856.00" y="114.36" font-size="7" text-anchor="middle" fill="#333" >3</text>
<text x="845.30" y="131.80" font-size="7" text-anchor="end" fill="#333" >BRN</text>
<text x="856.00" y="137.80" font-size="7" text-anchor="middle" fill="#333" >4</text>
<text x="845.30" y="143.52" font-size="7" text-anchor="end" fill="#333" >YEL</text>
<text x="856.00" y="149.52" font-size="7" text-anchor="middle" fill="#333" >5</text>
<text x="845.30" y="155.24" font-size="7" text-anchor="end" fill="#333" >PNK</text>
<text x="856.00" y="161.24" font-size="7" text-anchor="middle" fill="#333" >6</text>
<text x="845.30" y="166.96" font-size="7" text-anchor="end" fill="#333" >ORG</text>
<text x="856.00" y="172.96" font-size="7" text-anchor="middle" fill="#333" >7</text>
<text x="845.30" y="190.40" font-size="7" text-anchor="end" fill="#333" >RED</text>
<text x="856.00" y="196.40" font-size="7" text-anchor="middle" fill="#333" >8</text>
<text x="845.30" y="213.84" font-size="7" text-anchor="end" fill="#333" >WHT</text>
<text x="856.00" y="219.84" font-size="7" text-anchor="middle" fill="#333" >9</text>
<text x="845.30" y="225.56" font-size="7" text-anchor="end" fill="#333" >YEL</text>
<text x="856.00" y="231.56" font-size="7" text-anchor="middle" fill="#333" >10</text>
<text x="845.30" y="237.28" font-size="7" text-anchor="end" fill="#333" >BLU</text>
<text x="856.00" y="243.28" font-size="7" text-anchor="middle" fill="#333" >11</text>
<text x="233.00" y="82.20" font-size="7" text-anchor="start" fill="#333" >BUMPER)</text>
<text x="549.00" y="82.20" font-size="7" text-anchor="start" fill="#333" >BUMPER)</text>
<text x="20.00" y="763.00" font-size="7" text-anchor="start" fill="#333" font-weight="bold">467925</text>
<path d="M14.9,72.8 V768.7" stroke="#111" stroke-width="1.7" fill="none"/>
<path d="M14.1,767.85 H864.9" stroke="#2a2a2a" stroke-width="1.9" fill="none"/>
<path d="M864.0,72.8 V768.8" stroke="#2a2a2a" stroke-width="1.8" fill="none"/>
</g>
</svg>
</body></html>
